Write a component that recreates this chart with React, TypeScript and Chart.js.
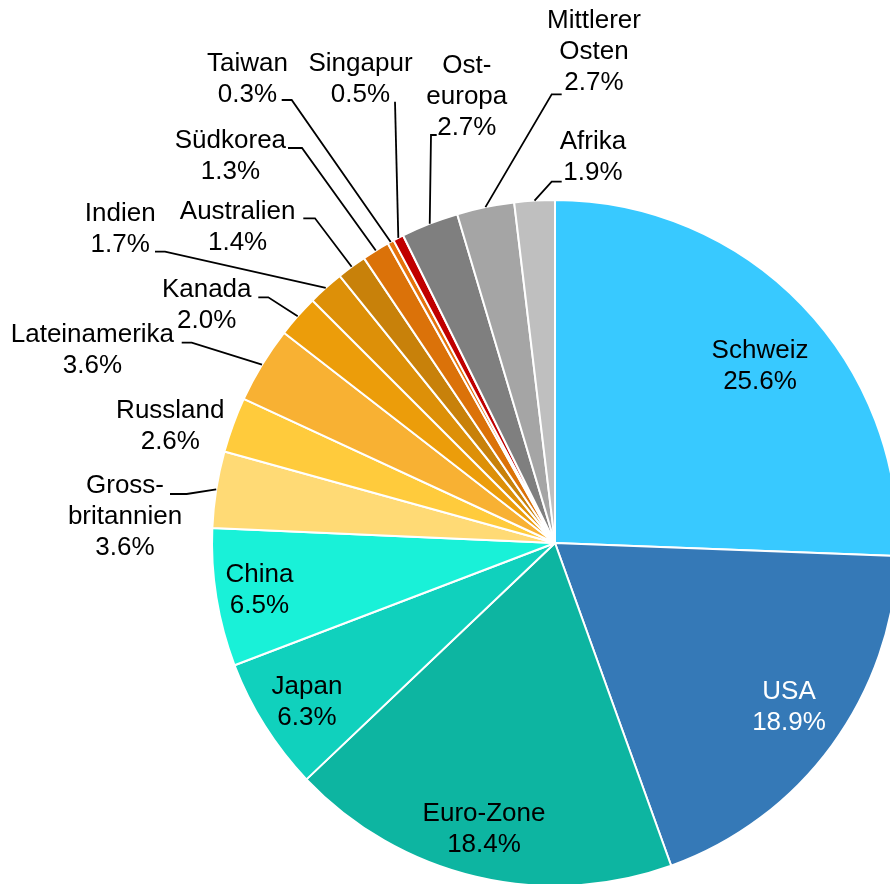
import React, { useEffect, useRef } from 'react';
import { Chart, registerables } from 'chart.js';

Chart.register(...registerables);

// ---- data ----
const categories = [
  'Schweiz',
  'USA',
  'Euro-Zone',
  'Japan',
  'China',
  'Gross-\nbritannien',
  'Russland',
  'Lateinamerika',
  'Kanada',
  'Indien',
  'Australien',
  'Südkorea',
  'Taiwan',
  'Singapur',
  'Ost-\neuropa',
  'Mittlerer\nOsten',
  'Afrika',
];

const shares = [25.6, 18.9, 18.4, 6.3, 6.5, 3.6, 2.6, 3.6, 2.0, 1.7, 1.4, 1.3, 0.3, 0.5, 2.7, 2.7, 1.9];

// ---- styles ----
const sliceColors = [
  '#38C9FF', '#3579B7', '#0DB5A1', '#10D1BD', '#19F1D8',
  '#FFDA75', '#FFCB3C', '#F8B133', '#EC9D0A', '#DD9008',
  '#C8810A', '#DB7209', '#E5730C', '#C00000', '#7F7F7F',
  '#A5A5A5', '#BFBFBF',
];

const textColors = categories.map((c) => (c === 'USA' ? '#FFFFFF' : '#000000'));

// label layout relative to pie centre (px): text block centre and optional leader line
type Leader = { start: [number, number]; elbow: [number, number] };
type Lay = { dx: number; dy: number; leader?: Leader };
const labelLayout: Lay[] = [
  { dx: 205, dy: -176.5 },
  { dx: 234, dy: 164.5 },
  { dx: -71, dy: 286 },
  { dx: -248, dy: 159 },
  { dx: -295.6, dy: 47 },
  { dx: -430, dy: -26, leader: { start: [-385, -49], elbow: [-368.3, -49] } },
  { dx: -384.7, dy: -117 },
  { dx: -462.6, dy: -193, leader: { start: [-373.3, -200.3], elbow: [-363.3, -200.3] } },
  { dx: -348.3, dy: -237.5, leader: { start: [-296.7, -245.7], elbow: [-286.7, -245.7] } },
  { dx: -434.8, dy: -314, leader: { start: [-400, -291.3], elbow: [-390, -291.3] } },
  { dx: -317.4, dy: -315.3, leader: { start: [-251.7, -324.7], elbow: [-240, -324.7] } },
  { dx: -324.6, dy: -387, leader: { start: [-267, -395], elbow: [-253, -395] } },
  { dx: -307.5, dy: -463.6, leader: { start: [-273.3, -443], elbow: [-263.3, -443] } },
  { dx: -194.5, dy: -463.8, leader: { start: [-160, -441.3], elbow: [-160, -441.3] } },
  { dx: -88.2, dy: -446, leader: { start: [-118.3, -408], elbow: [-124, -408] } },
  { dx: 39, dy: -491.5, leader: { start: [6.7, -448.7], elbow: [-3.3, -448.7] } },
  { dx: 38, dy: -385.5, leader: { start: [6.7, -361.3], elbow: [-3.3, -361.3] } },
];

const FONT = '26px "Liberation Sans", Arial, sans-serif';
const LINE_H = 31;

const labelPlugin = {
  id: 'sliceLabels',
  afterDatasetsDraw(chart: any) {
    const ctx: CanvasRenderingContext2D = chart.ctx;
    const meta = chart.getDatasetMeta(0);
    meta.data.forEach((arc: any, i: number) => {
      const { x, y, startAngle, endAngle, outerRadius } = arc.getProps(
        ['x', 'y', 'startAngle', 'endAngle', 'outerRadius'],
        true
      );
      const lay = labelLayout[i];
      ctx.save();
      if (lay.leader) {
        const mid = (startAngle + endAngle) / 2;
        const ax = x + Math.cos(mid) * outerRadius;
        const ay = y + Math.sin(mid) * outerRadius;
        ctx.beginPath();
        ctx.moveTo(ax, ay);
        ctx.lineTo(x + lay.leader.elbow[0], y + lay.leader.elbow[1]);
        ctx.lineTo(x + lay.leader.start[0], y + lay.leader.start[1]);
        ctx.strokeStyle = '#000000';
        ctx.lineWidth = 1.8;
        ctx.stroke();
      }
      const lines = [...categories[i].split('\n'), shares[i].toFixed(1) + '%'];
      ctx.font = FONT;
      ctx.fillStyle = textColors[i];
      ctx.textAlign = 'center';
      ctx.textBaseline = 'middle';
      const tx = x + lay.dx;
      const ty = y + lay.dy;
      lines.forEach((s, k) => {
        ctx.fillText(s, tx, ty + (k - (lines.length - 1) / 2) * LINE_H);
      });
      ctx.restore();
    });
  },
};

export default function App() {
  const ref = useRef<HTMLCanvasElement | null>(null);

  useEffect(() => {
    if (!ref.current) return;
    const chart = new Chart(ref.current, {
      type: 'pie',
      data: {
        labels: categories,
        datasets: [
          {
            data: shares,
            backgroundColor: sliceColors,
            borderColor: '#FFFFFF',
            borderWidth: 2,
          },
        ],
      },
      options: {
        responsive: false,
        animation: false,
        radius: 343,
        layout: { padding: { left: 220, top: 202, right: 0, bottom: 0 } },
        plugins: {
          legend: { display: false },
          tooltip: { enabled: false },
          title: { display: false },
        },
      } as any,
      plugins: [labelPlugin],
    });
    return () => chart.destroy();
  }, []);

  return (
    <div
      style={{
        position: 'fixed',
        left: 0,
        top: 0,
        width: 890,
        height: 884,
        overflow: 'hidden',
        background: '#FFFFFF',
      }}
    >
      <canvas ref={ref} width={890} height={884} style={{ display: 'block' }} />
    </div>
  );
}
